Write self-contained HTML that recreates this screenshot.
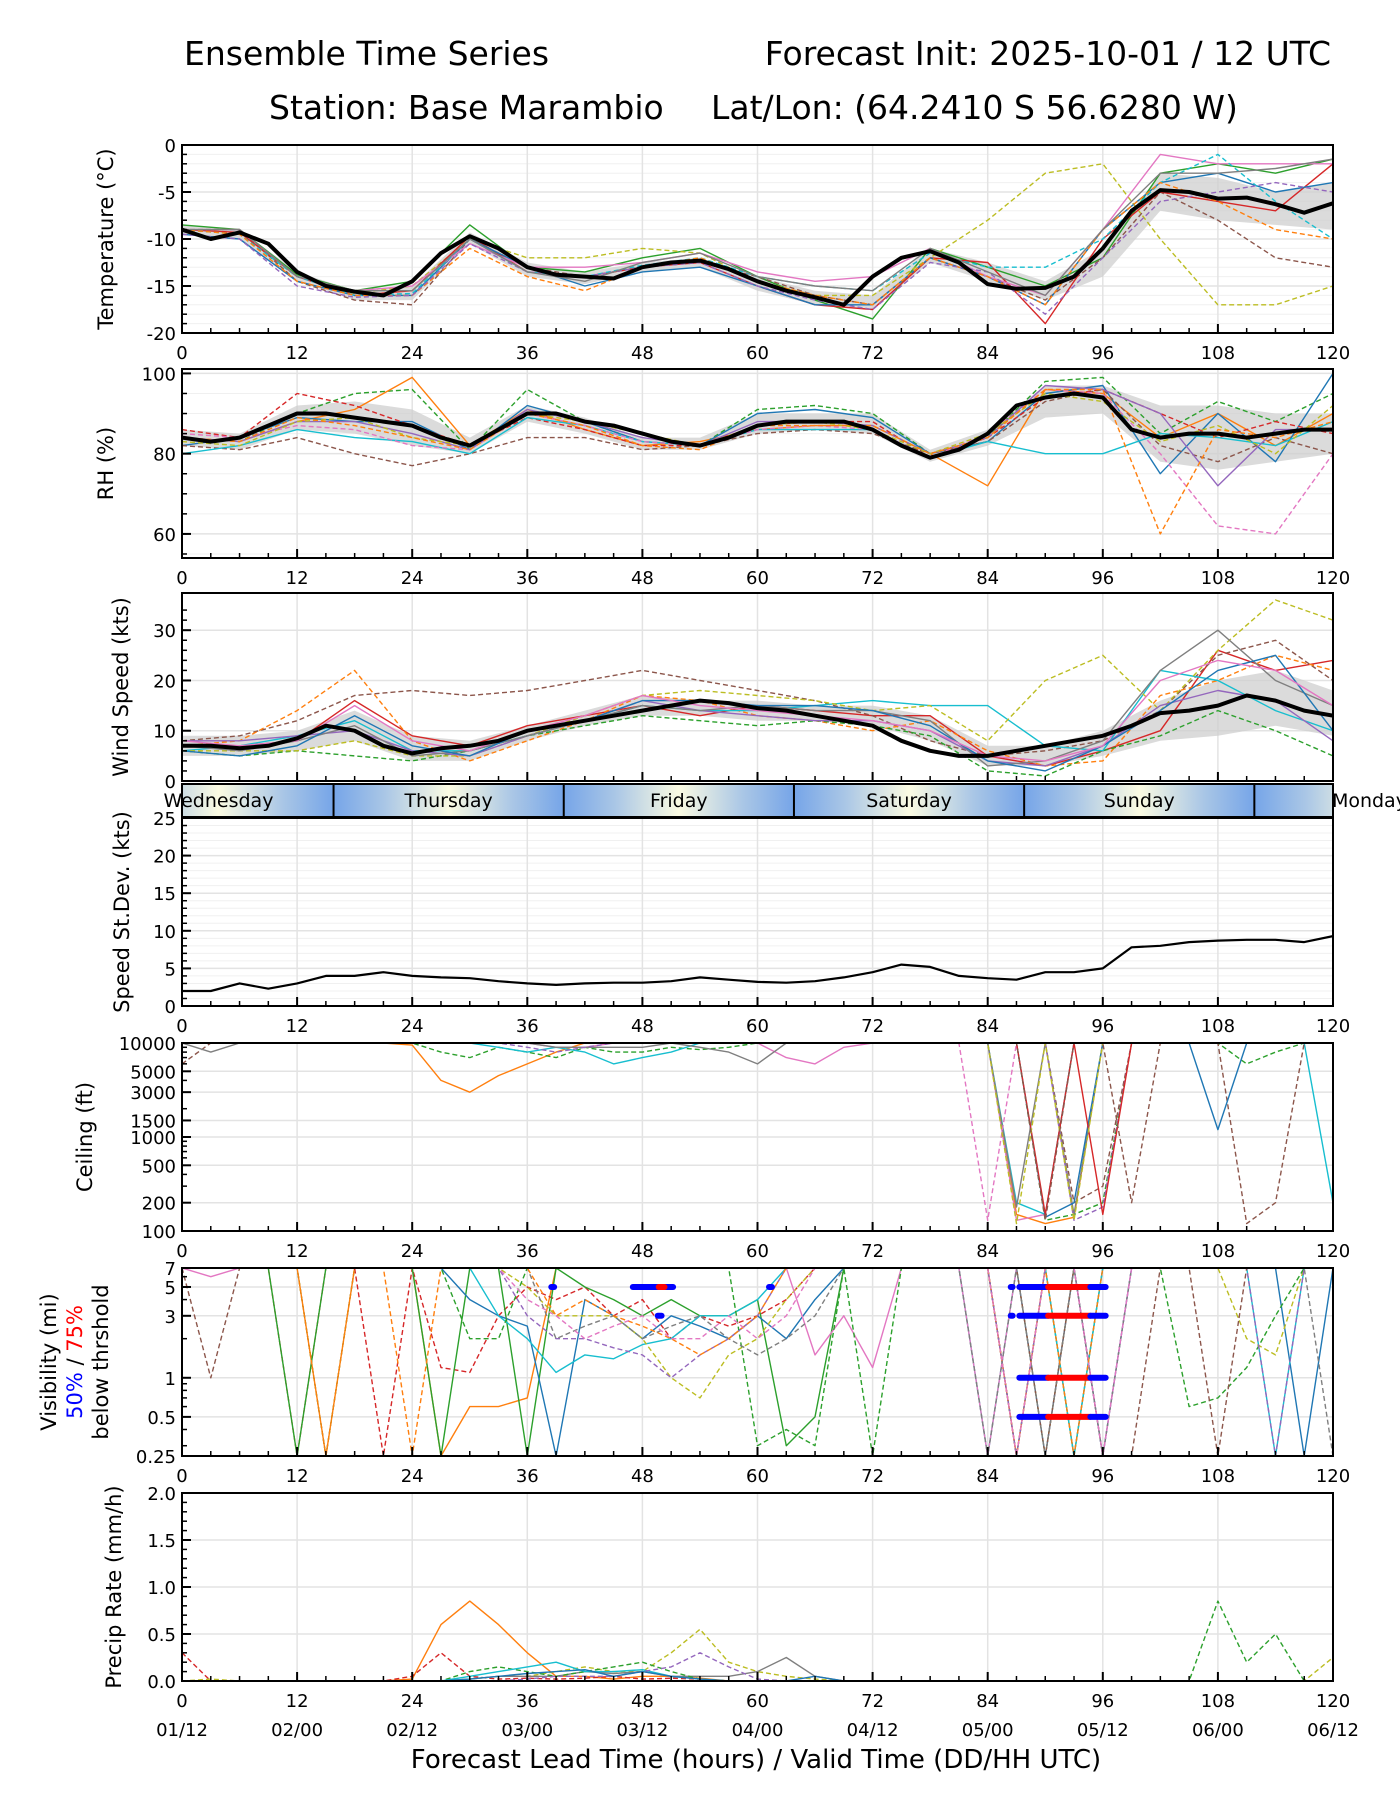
<!DOCTYPE html>
<html><head><meta charset="utf-8"><style>
html,body{margin:0;padding:0;background:#fff;}
svg{display:block;font-family:"DejaVu Sans","Liberation Sans",sans-serif;}
</style></head><body>
<svg id="fig" width="1400" height="1800" viewBox="0 0 1400 1800" xmlns="http://www.w3.org/2000/svg">
<defs>
<linearGradient id="dayGrad" gradientUnits="userSpaceOnUse" x1="333.6" y1="0" x2="563.8" y2="0" spreadMethod="repeat">
<stop offset="0" stop-color="#76a5e8"/><stop offset="0.22" stop-color="#a9c6e6"/><stop offset="0.5" stop-color="#fbfbe2"/><stop offset="0.78" stop-color="#a9c6e6"/><stop offset="1" stop-color="#76a5e8"/>
</linearGradient>
</defs>
<text x="184" y="65" font-size="33">Ensemble Time Series</text>
<text x="1331" y="65" font-size="33" text-anchor="end">Forecast Init: 2025-10-01 / 12 UTC</text>
<text x="269" y="119" font-size="33">Station: Base Marambio</text>
<text x="711" y="119" font-size="33">Lat/Lon: (64.2410 S 56.6280 W)</text>
<g id="layer"></g>
<text x="756" y="1768" font-size="26" text-anchor="middle">Forecast Lead Time (hours) / Valid Time (DD/HH UTC)</text>
</svg>
<script>
// ---------- data ----------
const hours6 = [0,6,12,18,24,30,36,42,48,54,60,66,72,78,84,90,96,102,108,114,120];
const hours3 = [0,3,6,9,12,15,18,21,24,27,30,33,36,39,42,45,48,51,54,57,60,63,66,69,72,75,78,81,84,87,90,93,96,99,102,105,108,111,114,117,120];
const xTicks = [0,12,24,36,48,60,72,84,96,108,120];
const dateLabels = ["01/12","02/00","02/12","03/00","03/12","04/00","04/12","05/00","05/12","06/00","06/12"];
const dayNames = ["Wednesday","Thursday","Friday","Saturday","Sunday","Monday"];
const dayCenters = [3.8,27.8,51.8,75.8,99.8,123.8];
const dayDividers = [15.8,39.8,63.8,87.8,111.8];
const colors = ["#1f77b4","#ff7f0e","#2ca02c","#d62728","#9467bd","#8c564b","#e377c2","#7f7f7f","#bcbd22","#17becf"];

const tempMean = [-9,-10,-9.3,-10.5,-13.5,-15,-15.6,-16,-14.5,-11.5,-9.7,-11,-13,-13.8,-14,-14.2,-13,-12.5,-12.3,-13.2,-14.5,-15.5,-16.2,-17,-14,-12,-11.3,-12.5,-14.8,-15.3,-15.2,-14,-11,-7,-4.8,-5,-5.7,-5.6,-6.3,-7.2,-6.2];
const tempLo = [-9.5,-10,-14.5,-16.5,-16.5,-10.5,-14,-14.8,-13.5,-13,-15.5,-17,-17.5,-12.5,-14.5,-16.5,-14,-7,-8,-8.5,-9];
const tempHi = [-8.5,-9,-13.5,-15.5,-15,-9.3,-12.5,-13.5,-12.5,-12,-14,-15.5,-16,-11,-12.5,-14.5,-11,-3,-3.5,-5,-4];
const tempMembers = [
 [-8.5,-9,-13.8,-15.5,-14.5,-8.5,-13,-13.5,-12,-11,-14,-16.5,-18.5,-11,-13,-15,-12,-3,-2,-3,-1.5],
 [-9,-9.5,-14,-15.8,-15,-10,-12,-12,-11,-11.5,-14.5,-16,-16,-12,-8,-3,-2,-10,-17,-17,-15],
 [-9,-9,-14.5,-16.5,-17,-10,-13,-14,-13,-12.5,-14,-16,-17,-12,-14,-16.5,-12,-5,-8,-12,-13],
 [-9,-9.3,-14,-16,-15.5,-9.7,-13.5,-14,-13,-12.5,-15,-17,-17.5,-12,-12.5,-19,-10,-5,-6,-7,-2],
 [-9.5,-10,-14.5,-16,-16,-10,-13,-15,-13.5,-13,-15,-17,-17,-12,-14,-17,-9,-4,-3,-5,-4],
 [-9,-9,-14,-15.5,-15,-10.5,-13,-13,-12.5,-11.5,-13.5,-14.5,-14,-11,-14,-16,-9,-1,-2,-2,-2],
 [-9,-9.5,-14,-16,-15.8,-10,-13.5,-14,-12.8,-12,-14,-15,-15.5,-11.5,-13,-13,-10,-4,-1,-6,-10],
 [-9,-9.5,-14.5,-16,-16,-11,-14,-15.5,-13,-12,-14.5,-16,-17,-12,-14,-17,-9,-4,-6,-9,-10],
 [-9.5,-10,-15,-16.2,-16,-10.5,-13.5,-14,-13,-12.5,-15,-16.5,-17.5,-12.5,-13.5,-18,-12,-6,-5,-4,-5],
 [-9,-9,-14,-15.5,-15.5,-10,-13.5,-14.5,-12.5,-11.5,-14,-15,-15.5,-11,-13.5,-16,-9,-3,-3,-2.5,-1.5]];
const tempColors = [2,8,5,3,0,6,9,1,4,7];
const tempDash = [0,1,1,0,0,0,1,1,1,0];

const rhMean = [84,83,84,87,90,90,89,88,87,84,82,86,90,90,88,87,85,83,82,84,87,88,88,88,86,82,79,81,85,92,94,95,94,86,84,85,85,84,85,86,86];
const rhLo = [82,81,86,85,82,80,88,85,81,81,85,86,85,78,82,89,90,78,76,78,80];
const rhHi = [86,85,92,93,91,84,92,89,84,84,90,90,90,81,86,97,97,92,92,90,90];
const rhMembers = [
 [84,83,90,95,96,81,96,88,83,82,91,92,90,80,84,98,99,85,93,88,95],
 [84,83,88,91,99,82,91,86,82,83,86,87,87,80,72,96,95,84,90,82,90],
 [82,84,89,88,88,81,92,88,83,82,90,91,89,80,83,95,97,75,90,78,100],
 [86,84,95,92,87,82,89,86,82,82,87,88,88,79,84,94,96,90,84,88,85],
 [82,81,84,80,77,80,84,84,81,82,85,86,85,80,83,93,96,82,78,84,80],
 [80,82,86,84,83,80,89,87,83,82,86,86,86,79,83,80,80,85,84,82,88],
 [85,84,87,86,82,81,90,87,83,82,86,87,86,79,85,96,95,80,62,60,80],
 [84,83,88,88,85,81,91,88,84,82,88,88,87,80,84,97,96,90,72,86,86],
 [83,82,88,89,84,82,90,88,85,82,87,88,86,80,85,95,93,83,87,80,92],
 [84,83,89,87,84,81,90,87,82,81,87,87,87,80,84,96,96,60,86,84,88]];
const rhColors = [2,1,0,3,5,9,6,4,8,1];
const rhDash = [1,0,0,1,1,0,1,0,1,1];

const windMean = [7,7,6.5,7,8.5,11,10,7,5.5,6.5,7,8,10,11,12,13,14,15,16,15.5,14.5,14,13,12,11,8,6,5,5,6,7,8,9,11,13.5,14,15,17,16,14,13];
const windLo = [5,5,6,8,4,4,8,11,13,13,12,12,11,8,3,3,5,8,9,11,9];
const windHi = [9,9,10,14,9,8,11,14,17,16,16,15,15,13,7,7,10,16,20,22,18];
const windMembers = [
 [7,7,8,16,9,7,11,13,15,13,15,14,13,13,5,3,6,10,26,22,24],
 [8,9,12,17,18,17,18,20,22,20,18,16,13,8,5,6,8,14,25,28,20],
 [7,8,14,22,8,4,8,12,17,16,13,12,10,12,6,3,4,17,20,25,22],
 [6,5,6,5,4,6,9,11,13,12,11,12,11,9,2,1,6,9,14,10,5],
 [6,7,9,12,6,6,9,12,15,14,14,15,16,15,15,7,6,22,20,14,10],
 [6,6,6,8,5,5,9,13,17,18,17,16,14,15,8,20,25,14,26,36,32],
 [8,8,9,10,6,5,9,12,16,14,13,12,12,10,4,3,7,15,18,16,8],
 [7,6,8,11,5,6,9,12,15,14,15,14,14,12,3,4,8,22,30,20,15],
 [6,5,7,13,7,5,10,12,16,16,15,15,14,11,4,2,7,14,22,25,10],
 [8,7,8,15,8,6,10,13,17,15,14,13,12,10,5,4,7,20,24,22,15]];
const windColors = [3,5,1,2,9,8,4,7,0,6];
const windDash = [0,1,1,1,0,1,0,0,0,0];

const sdValues = [2,2,3,2.3,3,4,4,4.5,4,3.8,3.7,3.3,3,2.8,3,3.1,3.1,3.3,3.8,3.5,3.2,3.1,3.3,3.8,4.5,5.5,5.2,4,3.7,3.5,4.5,4.5,5,7.8,8,8.5,8.7,8.8,8.8,8.5,9.3];

const ceilMembers = [
 [10000,10000,10000,10000,10000,10000,10000,10000,9500,4000,3000,4500,6000,8000,10000,10000,10000,10000,10000,10000,10000,10000,10000,10000,10000,10000,10000,10000,10000,150,120,140,10000,10000,10000,10000,10000,10000,10000,10000,10000],
 [10000,10000,10000,10000,10000,10000,10000,10000,10000,8000,7000,9000,8000,7000,9000,8000,8000,9000,8500,9000,10000,10000,10000,10000,10000,10000,10000,10000,10000,10000,130,150,200,10000,10000,10000,10000,6000,8000,10000,10000],
 [10000,10000,10000,10000,10000,10000,10000,10000,10000,10000,10000,10000,10000,9000,9000,10000,10000,10000,10000,10000,10000,7000,6000,9000,10000,10000,10000,10000,10000,130,150,10000,10000,10000,10000,10000,10000,10000,10000,10000,10000],
 [10000,10000,10000,10000,10000,10000,10000,10000,10000,10000,10000,9000,8000,9000,8000,6000,7000,8000,10000,10000,10000,10000,10000,10000,10000,10000,10000,10000,10000,200,150,10000,10000,10000,10000,10000,10000,10000,10000,10000,200],
 [6000,10000,10000,10000,10000,10000,10000,10000,10000,10000,10000,10000,10000,10000,10000,10000,10000,10000,10000,10000,10000,10000,10000,10000,10000,10000,10000,10000,10000,10000,10000,200,300,10000,10000,10000,10000,120,200,10000,10000],
 [10000,8000,10000,10000,10000,10000,10000,10000,10000,10000,10000,10000,10000,9000,9000,9000,9000,10000,9000,8000,6000,10000,10000,10000,10000,10000,10000,10000,10000,180,10000,150,10000,10000,10000,10000,10000,10000,10000,10000,10000],
 [10000,10000,10000,10000,10000,10000,10000,10000,10000,10000,10000,10000,9000,8000,9000,10000,10000,10000,10000,10000,10000,10000,10000,10000,10000,10000,10000,10000,10000,10000,10000,130,180,10000,10000,10000,10000,10000,10000,10000,10000],
 [10000,10000,10000,10000,10000,10000,10000,10000,10000,10000,10000,10000,10000,10000,10000,10000,10000,10000,10000,10000,10000,10000,10000,10000,10000,10000,10000,10000,10000,10000,140,200,10000,10000,10000,10000,1200,10000,10000,10000,10000],
 [10000,10000,10000,10000,10000,10000,10000,10000,10000,10000,10000,10000,10000,10000,10000,10000,10000,10000,10000,10000,10000,10000,10000,10000,10000,10000,10000,10000,130,10000,10000,10000,10000,10000,10000,10000,10000,10000,10000,10000,10000],
 [10000,10000,10000,10000,10000,10000,10000,10000,10000,10000,10000,10000,10000,10000,10000,10000,10000,10000,10000,10000,10000,10000,10000,10000,10000,10000,10000,10000,10000,10000,150,10000,150,10000,10000,10000,10000,10000,10000,10000,10000],
 [10000,10000,10000,10000,10000,10000,10000,10000,10000,10000,10000,10000,10000,10000,10000,10000,10000,10000,10000,10000,10000,10000,10000,10000,10000,10000,10000,10000,10000,120,10000,130,10000,10000,10000,10000,10000,10000,10000,10000,10000],
 [10000,10000,10000,10000,10000,10000,10000,10000,10000,10000,10000,10000,10000,10000,10000,10000,10000,10000,10000,10000,10000,10000,10000,10000,10000,10000,10000,10000,10000,10000,130,10000,10000,200,10000,10000,10000,10000,10000,10000,10000]];
const ceilColors = [1,2,6,9,5,7,4,0,6,3,8,5];
const ceilDash = [0,1,0,0,1,0,1,0,1,0,1,1];

const visMembers = [
 [7,7,7,7,7,0.25,7,7,7,0.25,0.6,0.6,0.7,7,7,7,7,7,7,7,7,7,7,7,7,7,7,7,7,0.25,7,7,7,7,7,7,7,7,7,7,7],
 [7,7,7,7,0.25,7,7,0.25,7,1.2,1.1,3,5,4,5,3,4,2,3,2.5,3,4,7,7,7,7,7,7,7,0.25,0.25,7,7,7,7,7,7,7,7,7,7],
 [7,7,7,7,0.25,7,7,7,7,0.25,7,7,0.25,7,5,4,3,4,3,3,4,0.3,0.5,7,7,7,7,7,7,0.25,7,0.25,7,7,7,7,7,7,7,7,7],
 [7,7,7,7,7,7,7,7,7,7,4,3,2.5,0.25,4,3,2,3,2.5,2,3,2,4,7,7,7,7,7,7,7,0.25,7,0.25,7,7,7,7,7,7,0.25,7],
 [7,7,7,7,7,7,7,7,7,7,7,3,2,1.1,1.5,1.4,1.8,2,3,3,4,7,7,7,7,7,7,7,0.25,7,7,0.25,7,7,7,7,7,7,0.25,7,7],
 [7,7,7,7,7,7,7,7,7,7,7,7,5,3,3,3,2,1,0.7,1.5,2,4,7,7,7,7,7,7,7,7,0.25,7,7,7,7,7,7,2,1.5,7,7],
 [7,6,7,7,7,7,7,7,7,7,7,7,7,7,7,7,7,7,7,7,7,7,1.5,3,1.2,7,7,7,0.25,7,7,7,7,7,7,7,7,7,7,7,7],
 [7,7,7,7,7,0.25,7,7,7,7,2,2,7,7,7,7,7,7,7,7,0.3,0.4,0.3,7,0.25,7,7,7,7,7,7,7,7,7,7,0.6,0.7,1.2,3,7,7],
 [7,7,7,7,7,7,7,7,7,7,7,7,3,2,2,1.7,1.5,1,1.5,2,3,7,7,7,7,7,7,7,7,0.25,7,7,0.25,7,7,7,7,7,0.25,7,7],
 [7,1,7,7,7,7,7,7,7,7,7,7,7,7,7,7,7,7,7,7,7,7,7,7,7,7,7,7,7,7,0.25,7,0.25,0.25,7,7,0.25,7,7,7,7],
 [7,7,7,7,7,7,7,7,7,7,7,7,7,2,2.5,3,2,2.5,3,2,1.5,2,3,7,7,7,7,7,0.25,7,0.25,7,0.25,7,7,7,7,7,7,7,0.25],
 [7,7,7,7,7,0.25,7,7,0.25,7,7,7,7,3,4,3,2.5,2,1.5,2,3,7,7,7,7,7,7,7,7,0.25,7,0.25,7,7,7,7,7,7,7,7,7],
 [7,7,7,7,7,7,7,7,7,7,7,7,4,3,2,2.5,3,2,2,3,2,3,7,7,7,7,7,7,7,0.25,7,7,0.25,7,7,7,7,7,7,7,7]];
const visColors = [1,3,2,0,9,8,6,2,4,5,7,1,6];
const visDash = [0,1,0,0,0,1,0,1,1,1,1,1,1];
// threshold bars: start hour, end hour, level, colour index (0 = 50%, 1 = 75%)
const thrStart = [38.5,47,49.7,61.2,86.4,87.3,90.3,94.7,86.4,87.3,90.3,94.7,87.3,90.3,94.7,87.3,90.3,94.7,49.6];
const thrEnd   = [38.8,51.2,50.3,61.5,86.6,90.3,94.7,96.3,86.6,90.3,94.7,96.3,90.3,94.7,96.3,90.3,94.7,96.3,50];
const thrLevel = [5,5,5,5,5,5,5,5,3,3,3,3,1,1,1,0.5,0.5,0.5,3];
const thrKind  = [0,0,1,0,0,0,1,0,0,0,1,0,0,1,0,0,1,0,0];

const precipMembers = [
 [0,0,0,0,0,0,0,0,0.02,0.6,0.85,0.6,0.3,0.05,0.05,0.02,0.05,0.05,0.03,0,0,0,0,0,0,0,0,0,0,0,0,0,0,0,0,0,0,0,0,0,0],
 [0.3,0,0,0,0,0,0,0,0.05,0.3,0.05,0.02,0.03,0.02,0.03,0.05,0.02,0.03,0.02,0,0,0,0,0,0,0,0,0,0,0,0,0,0,0,0,0,0,0,0,0,0],
 [0,0.02,0,0,0,0,0,0,0,0,0.02,0.05,0.05,0.1,0.15,0.1,0.1,0.3,0.55,0.2,0.1,0.05,0.02,0,0,0,0,0,0,0,0,0,0,0,0,0,0,0,0,0,0.25],
 [0,0,0,0,0,0,0,0,0,0,0.02,0.05,0.05,0.05,0.1,0.08,0.1,0.05,0.05,0.05,0.1,0.25,0.05,0,0,0,0,0,0,0,0,0,0,0,0,0,0,0,0,0,0],
 [0,0,0,0,0,0,0,0,0,0,0.1,0.15,0.1,0.05,0.1,0.15,0.2,0.1,0.02,0,0,0,0,0,0,0,0,0,0,0,0,0,0,0,0,0,0.85,0.2,0.5,0,0],
 [0,0,0,0,0,0,0,0,0,0,0.05,0.1,0.15,0.2,0.1,0.1,0.12,0.05,0.02,0,0,0,0,0,0,0,0,0,0,0,0,0,0,0,0,0,0,0,0,0,0],
 [0,0,0,0,0,0,0,0,0,0,0,0,0.02,0.05,0.05,0.05,0.1,0.15,0.3,0.15,0.02,0,0,0,0,0,0,0,0,0,0,0,0,0,0,0,0,0,0,0,0],
 [0,0,0,0,0,0,0,0,0,0,0.02,0.05,0.08,0.1,0.12,0.05,0.1,0.05,0.02,0,0,0,0.05,0,0,0,0,0,0,0,0,0,0,0,0,0,0,0,0,0,0]];
const precipColors = [1,3,8,7,2,9,4,0];
const precipDash = [0,1,1,0,1,0,1,0];

// ---------- drawing ----------
const NS = "http://www.w3.org/2000/svg";
const layer = document.getElementById("layer");
const X0 = 182, X1 = 1333;
function xs(h){ return X0 + h*(X1-X0)/120; }
function mk(tag, attrs, parent){
  const e = document.createElementNS(NS, tag);
  for (const k in attrs) e.setAttribute(k, attrs[k]);
  (parent||layer).appendChild(e);
  return e;
}
function makeY(p){
  if (p.log){
    const a = Math.log(p.min), b = Math.log(p.max);
    return v => p.bottom - (Math.log(Math.max(p.min, Math.min(p.max, v))) - a)/(b-a)*(p.bottom-p.top);
  }
  return v => p.bottom - (v - p.min)/(p.max - p.min)*(p.bottom-p.top);
}
function panel(p){
  const g = mk("g", {});
  
  
  const y = makeY(p);
  (p.minorGrid||[]).forEach(v => {
    const l = mk("line", {x1:X0, x2:X1, y1:y(v), y2:y(v), stroke:"#f0f0f0", "stroke-width":1}, g);
    
    
  });
  xTicks.forEach(h => {
    const l = mk("line", {x1:xs(h), x2:xs(h), y1:p.top, y2:p.bottom, stroke:"#e3e3e3", "stroke-width":1.5}, g);
    
    
  });
  p.yTicks.forEach(v => {
    const l = mk("line", {x1:X0, x2:X1, y1:y(v), y2:y(v), stroke:"#e3e3e3", "stroke-width":1.5}, g);
    
    
  });
  const cp = mk("clipPath", {id:"clip-"+p.name}, g);
  mk("rect", {x:X0, y:p.top, width:X1-X0, height:p.bottom-p.top}, cp);
  const data = mk("g", {"clip-path":"url(#clip-"+p.name+")"}, g);
  
  
  if (p.draw) p.draw(p, data, y);
  const fr = mk("rect", {x:X0, y:p.top, width:X1-X0, height:p.bottom-p.top, fill:"none", stroke:"#000", "stroke-width":2}, g);
  
  
  for (let h=0; h<=120; h+=3){
    const major = h%12===0;
    const len = major?9:5;
    const t = mk("line", {x1:xs(h), x2:xs(h), y1:p.bottom, y2:p.bottom-len, stroke:"#000", "stroke-width":major?2:1.5}, g);
    
    
  }
  if (!p.noXLabels) xTicks.forEach((h,i) => {
    const t = mk("text", {x:xs(h), y:p.bottom+26, "font-size":18, "text-anchor":"middle"}, g);
    t.textContent = h;
    
    
    if (p.dates){
      const d = mk("text", {x:xs(h), y:p.bottom+55, "font-size":18, "text-anchor":"middle"}, g);
      d.textContent = dateLabels[i];
      
      
    }
  });
  (p.minorTicks||[]).forEach(v => {
    const t = mk("line", {x1:X0, x2:X0+5, y1:y(v), y2:y(v), stroke:"#000", "stroke-width":1.5}, g);
    
    
  });
  p.yTicks.forEach((v,i) => {
    const t = mk("line", {x1:X0, x2:X0+9, y1:y(v), y2:y(v), stroke:"#000", "stroke-width":2}, g);
    
    
    const lab = mk("text", {x:X0-6, y:y(v)+7, "font-size":18, "text-anchor":"end"}, g);
    lab.textContent = p.yLabels ? p.yLabels[i] : v;
    
    
  });
  const cy = (p.top+p.bottom)/2;
  p.titleLines.forEach((ln, i) => {
    const tx = p.titleX + i*26;
    const t = mk("text", {x:tx, y:cy, "font-size":21, "text-anchor":"middle", transform:"rotate(-90 "+tx+" "+cy+")"}, g);
    
    
    ln.forEach(seg => {
      const s = mk("tspan", {fill:seg[1]}, t);
      s.textContent = seg[0];
    });
  });
}
function linePath(hs, vals, y){
  return hs.map((h,i) => (i?"L":"M") + xs(h).toFixed(1) + "," + y(vals[i]).toFixed(1)).join(" ");
}
function drawEnsemble(hs, members, cols, dashes, parent, y, name){
  members.forEach((m, i) => {
    const p = mk("path", {d:linePath(hs, m, y), fill:"none", stroke:colors[cols[i]], "stroke-width":1.4, "stroke-dasharray":dashes[i]?"5,3":"none", "stroke-linejoin":"round"}, parent);
    
    
  });
}
function drawBand(lo, hi, parent, y, name){
  const top = hours6.map((h,i) => (i?"L":"M") + xs(h).toFixed(1) + "," + y(hi[i]).toFixed(1)).join(" ");
  const bot = hours6.slice().reverse().map((h,j) => "L" + xs(h).toFixed(1) + "," + y(lo[lo.length-1-j]).toFixed(1)).join(" ");
  const p = mk("path", {d:top + " " + bot + " Z", fill:"#cfcfcf", "fill-opacity":0.75}, parent);
  
  
}
function drawMean(vals, parent, y, name, w){
  const p = mk("path", {d:linePath(hours3, vals, y), fill:"none", stroke:"#000", "stroke-width":w||4, "stroke-linejoin":"round"}, parent);
  
  
}
function rangeArr(a,b,s){ const r=[]; for(let v=a; v<=b+1e-9; v+=s) r.push(+v.toFixed(3)); return r; }

panel({name:"temperature", top:145, bottom:333, min:-20, max:0, yTicks:[0,-5,-10,-15,-20], minorTicks:rangeArr(-20,0,1), minorGrid:rangeArr(-20,0,1), titleX:113, titleLines:[[["Temperature (°C)","#000"]]],
  draw:(p,g,y)=>{ drawBand(tempLo,tempHi,g,y,"temperature"); drawEnsemble(hours6,tempMembers,tempColors,tempDash,g,y,"temperature"); drawMean(tempMean,g,y,"temperature"); }});
panel({name:"rh", top:369, bottom:558, min:54, max:101.1, yTicks:[60,80,100], minorTicks:rangeArr(55,100,5), minorGrid:rangeArr(55,100,5), titleX:113, titleLines:[[["RH (%)","#000"]]],
  draw:(p,g,y)=>{ drawBand(rhLo,rhHi,g,y,"rh"); drawEnsemble(hours6,rhMembers,rhColors,rhDash,g,y,"rh"); drawMean(rhMean,g,y,"rh"); }});
panel({name:"wind", top:593, bottom:781, min:0, max:37.4, yTicks:[0,10,20,30], minorTicks:rangeArr(0,35,2), titleX:128, titleLines:[[["Wind Speed (kts)","#000"]]], noXLabels:true,
  draw:(p,g,y)=>{ drawBand(windLo,windHi,g,y,"wind"); drawEnsemble(hours6,windMembers,windColors,windDash,g,y,"wind"); drawMean(windMean,g,y,"wind"); }});
panel({name:"speed-stdev", top:818, bottom:1006, min:0, max:25, yTicks:[0,5,10,15,20,25], minorTicks:rangeArr(0,25,1), minorGrid:rangeArr(0,25,1), titleX:129, titleLines:[[["Speed St.Dev. (kts)","#000"]]],
  draw:(p,g,y)=>{ drawMean(sdValues,g,y,"speed-stdev",2.2); }});
panel({name:"ceiling", top:1043, bottom:1231, min:100, max:10000, log:true, yTicks:[100,200,500,1000,1500,3000,5000,10000], minorTicks:[300,400,600,700,800,900,2000,4000,6000,7000,8000,9000], titleX:92, titleLines:[[["Ceiling (ft)","#000"]]],
  draw:(p,g,y)=>{ drawEnsemble(hours3,ceilMembers,ceilColors,ceilDash,g,y,"ceiling"); }});
panel({name:"visibility", top:1268, bottom:1456, min:0.25, max:7, log:true, yTicks:[0.25,0.5,1,3,5,7], minorTicks:[0.3,0.4,0.6,0.7,0.8,0.9,2,4,6], titleX:56, titleLines:[[["Visibility (mi)","#000"]],[["50%","#0000ff"],[" / ","#000"],["75%","#ff0000"]],[["below thrshold","#000"]]],
  draw:(p,g,y)=>{
    drawEnsemble(hours3,visMembers,visColors,visDash,g,y,"visibility");
    thrStart.forEach((s,i)=>{
      const c = thrKind[i] ? "#ff0000" : "#0000ff";
      const r = mk("line", {x1:xs(s), x2:xs(thrEnd[i]), y1:y(thrLevel[i]), y2:y(thrLevel[i]), stroke:c, "stroke-width":6, "stroke-linecap":"round"}, g);
      
      
    });
  }});
panel({name:"precip", top:1493, bottom:1681, min:0, max:2, yTicks:[0,0.5,1,1.5,2], yLabels:["0.0","0.5","1.0","1.5","2.0"], minorTicks:rangeArr(0,2,0.1), titleX:121, titleLines:[[["Precip Rate (mm/h)","#000"]]], dates:true,
  draw:(p,g,y)=>{ drawEnsemble(hours3,precipMembers,precipColors,precipDash,g,y,"precip"); }});

// day bar
const db = mk("g", {});


const dbr = mk("rect", {x:X0, y:784, width:X1-X0, height:33, fill:"url(#dayGrad)", stroke:"#000", "stroke-width":2}, db);


dayDividers.forEach(h => {
  const l = mk("line", {x1:xs(h), x2:xs(h), y1:784, y2:817, stroke:"#000", "stroke-width":2}, db);
  
  
});
dayNames.forEach((n,i) => {
  const t = mk("text", {x:xs(dayCenters[i]), y:807, "font-size":19, "text-anchor":"middle"}, db);
  t.textContent = n;
  
  
});
</script>
</body></html>
